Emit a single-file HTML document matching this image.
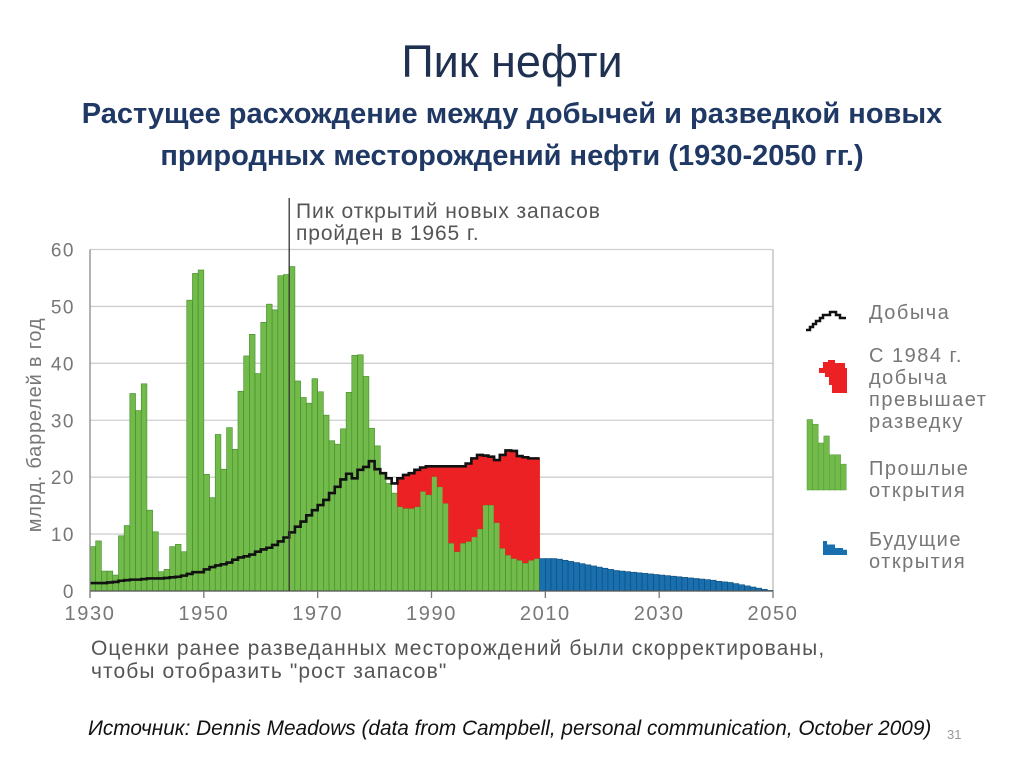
<!DOCTYPE html>
<html><head><meta charset="utf-8"><style>
body{margin:0;background:#fff;width:1024px;height:767px;overflow:hidden;font-family:"Liberation Sans","DejaVu Sans",sans-serif;}
.t{position:absolute;left:0;width:1024px;text-align:center;color:#1f3050;}
</style></head><body>
<div class="t" style="top:36px;font-size:45px;">Пик нефти</div>
<div class="t" style="top:93px;font-size:29px;font-weight:bold;line-height:42px;color:#1f3864;">Растущее расхождение между добычей и разведкой новых<br>природных месторождений нефти (1930-2050 гг.)</div>
<svg id="chart" width="1024" height="767" style="position:absolute;left:0;top:0" font-family="Liberation Sans, DejaVu Sans, sans-serif"></svg>
<script>
const discYears0 = 1930;
const discoveries = [7.8,8.8,3.5,3.5,2.8,9.7,11.5,34.7,31.7,36.4,14.2,10.4,3.4,3.8,7.8,8.2,6.9,51.1,55.8,56.4,20.5,16.4,27.5,21.4,28.7,24.9,35.1,41.3,45.1,38.2,47.2,50.4,49.4,55.4,55.6,57,36.9,34,33,37.3,35,30.9,26.4,25.8,28.5,34.9,41.4,41.5,37.7,28.6,25.5,20.7,18.9,17.2,14.8,14.5,14.5,14.8,17.5,16.9,20.1,18.3,15.4,8.4,6.9,8.4,8.7,9.5,10.9,15.1,15.1,12,7.5,6.3,5.7,5.4,4.9,5.4,5.7];
const production = [1.4,1.4,1.4,1.5,1.6,1.8,1.9,2.0,2.0,2.1,2.2,2.2,2.2,2.3,2.4,2.5,2.7,3.0,3.3,3.3,3.8,4.2,4.5,4.7,5.0,5.5,5.9,6.1,6.4,6.9,7.3,7.6,8.1,8.7,9.4,10.3,11.3,12.2,13.3,14.2,15.1,16,17.2,18.3,19.6,20.6,19.8,21.3,21.8,22.8,21.4,20.7,19.8,18.9,19.8,20.4,20.7,21.3,21.7,21.9,21.9,21.9,21.9,21.9,21.9,21.9,22.4,23.3,23.9,23.8,23.6,23,23.9,24.7,24.6,23.7,23.5,23.3,23.3];
const futureYear0 = 2009;
const future = [5.7,5.7,5.7,5.6,5.4,5.2,5.0,4.8,4.6,4.4,4.2,4.0,3.8,3.6,3.5,3.4,3.3,3.2,3.1,3.0,2.9,2.8,2.7,2.6,2.5,2.4,2.3,2.2,2.1,2.0,1.9,1.7,1.6,1.5,1.3,1.1,0.9,0.7,0.5,0.3,0.1];
const yTicks = [0,10,20,30,40,50,60];
const xTicks = [1930,1950,1970,1990,2010,2030,2050];
const redStart = 1984;

const svg=document.getElementById('chart');
const NS='http://www.w3.org/2000/svg';
const X0=90,X1=773,Y0=591,Y1=249.5;
const xs=y=>X0+(y-1930)*(X1-X0)/120;
const ys=v=>Y0-v*(Y0-Y1)/60;
function el(t,a,p){const e=document.createElementNS(NS,t);for(const k in a)e.setAttribute(k,a[k]);(p||svg).appendChild(e);return e;}
yTicks.forEach(v=>{
  const g=el('line',{x1:X0,x2:X1,y1:ys(v),y2:ys(v),stroke:'#cfcfcf','stroke-width':1.3});
  
  
  const t=el('text',{x:75,y:ys(v)+7,'text-anchor':'end','font-size':19,fill:'#777','letter-spacing':1.5});
  t.textContent=v;
  
  
});
el('line',{x1:X1,x2:X1,y1:Y1,y2:Y0,stroke:'#bbb','stroke-width':1.3});
discoveries.forEach((v,i)=>{
  const y=discYears0+i;
  const r=el('rect',{x:xs(y),y:ys(v),width:xs(y+1)-xs(y),height:Y0-ys(v),fill:'#72bb4a',stroke:'#3f8a2a','stroke-width':0.6});
  
  
});
production.forEach((p,i)=>{
  const y=discYears0+i;
  if(y<redStart)return;
  const d=discoveries[i];
  if(p>d){
    const r=el('rect',{x:xs(y)-0.3,y:ys(p),width:xs(y+1)-xs(y)+0.6,height:ys(d)-ys(p),fill:'#ec2124'});
    
    
  }
});
future.forEach((v,i)=>{
  const y=futureYear0+i;
  const r=el('rect',{x:xs(y),y:ys(v),width:xs(y+1)-xs(y),height:Y0-ys(v),fill:'#1a6fae',stroke:'#0d4a7a','stroke-width':0.6});
  
  
});
let d='';
production.forEach((p,i)=>{const y=discYears0+i;d+=(i?'L':'M')+xs(y)+','+ys(p)+'L'+xs(y+1)+','+ys(p);});
const pl=el('path',{d:d,fill:'none',stroke:'#111','stroke-width':2.6});


el('line',{x1:X0,x2:X0,y1:Y1,y2:Y0,stroke:'#888','stroke-width':1.3});
el('line',{x1:X0,x2:X1,y1:Y0,y2:Y0,stroke:'#555','stroke-width':1.3});
xTicks.forEach(v=>{
  el('line',{x1:xs(v),x2:xs(v),y1:Y0,y2:Y0+7,stroke:'#777','stroke-width':1.3});
  const t=el('text',{x:xs(v),y:620,'text-anchor':'middle','font-size':20,fill:'#777','letter-spacing':1.6});
  t.textContent=v;
  
  
});
el('line',{x1:xs(1965),x2:xs(1965),y1:198,y2:Y0,stroke:'#333','stroke-width':1.3});
[['Пик открытий новых запасов',218],['пройден в 1965 г.',240]].forEach(([s,y])=>{
  const t=el('text',{x:296,y:y,'font-size':21,fill:'#555','letter-spacing':0.9});t.textContent=s;
  
  
});
const yt=el('text',{x:0,y:0,'font-size':20,fill:'#777','text-anchor':'middle','letter-spacing':0.8,transform:'translate(41,425) rotate(-90)'});
yt.textContent='млрд. баррелей в год';


function lt(lines,y){lines.forEach((s,k)=>{const t=el('text',{x:869,y:y+k*22,'font-size':20,fill:'#777','letter-spacing':1.5});t.textContent=s;
  
  });}
el('path',{d:'M806,330 L810,330 L810,327 L813,327 L813,324 L816,324 L816,321 L820,321 L820,318 L823,318 L823,315 L830,315 L830,312 L836,312 L836,315 L840,315 L840,318 L846,318',fill:'none',stroke:'#111','stroke-width':2.5});
lt(['Добыча'],319);
el('path',{d:'M819,368 L823,368 L823,362 L828,362 L828,360 L835,360 L835,363 L845,363 L845,368 L847,368 L847,393 L832,393 L832,385 L829,385 L829,377 L825,377 L825,373 L819,373Z',fill:'#ec2124'});
lt(['С 1984 г.','добыча','превышает','разведку'],362);
const lg=[30,28,20,23,15,15,11];
lg.forEach((v,i)=>el('rect',{x:807+i*5.6,y:490-v*2.35,width:5.6,height:v*2.35,fill:'#72bb4a',stroke:'#4f9a35','stroke-width':0.5}));
lt(['Прошлые','открытия'],475);
[4,3,3,2,2,1.5].forEach((v,i)=>el('rect',{x:823+i*4,y:555-v*3.5,width:4,height:v*3.5,fill:'#1a6fae'}));
lt(['Будущие','открытия'],546);
[['Оценки ранее разведанных месторождений были скорректированы,',655],['чтобы отобразить "рост запасов"',678]].forEach(([s,y])=>{
  const t=el('text',{x:91,y:y,'font-size':21,fill:'#555','letter-spacing':1.1});t.textContent=s;
  
  
});
const src=el('text',{x:88,y:735,'font-size':20.8,fill:'#111','font-style':'italic'});
src.textContent='Источник: Dennis Meadows (data from Campbell, personal communication, October 2009)';


const pn=el('text',{x:947,y:739,'font-size':13,fill:'#999'});pn.textContent='31';


</script>
</body></html>
